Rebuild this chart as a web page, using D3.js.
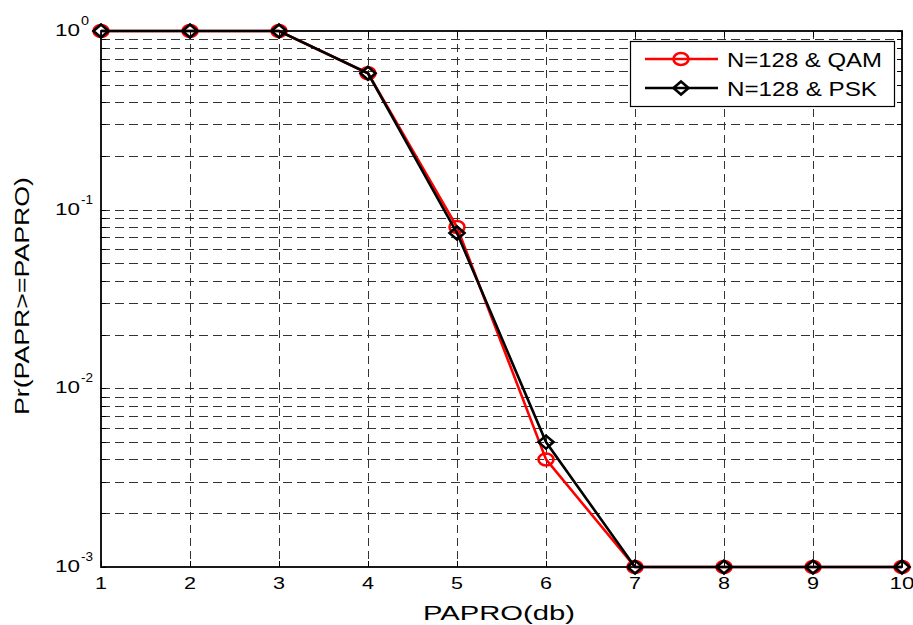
<!DOCTYPE html>
<html>
<head>
<meta charset="utf-8">
<script src="https://cdn.jsdelivr.net/npm/d3@7"></script>
<style>
  body { margin: 0; background: #fff; }
  text { font-family: "Liberation Sans", Arial, sans-serif; fill: #000; }
</style>
</head>
<body>
<div id="chart"></div>
<script>
let width = 913,
    height = 625,
    margin = ({ top: 31, right: 11, bottom: 58, left: 101 });

// data
const papro = [1, 2, 3, 4, 5, 6, 7, 8, 9, 10];
const qam   = [1, 1, 1, 0.58, 0.080, 0.0040, 0.001, 0.001, 0.001, 0.001];
const psk   = [1, 1, 1, 0.58, 0.074, 0.0050, 0.001, 0.001, 0.001, 0.001];
const xTicks = [1, 2, 3, 4, 5, 6, 7, 8, 9, 10];
const yDecades = [1, 0.1, 0.01, 0.001];
const yExponents = ["0", "-1", "-2", "-3"];
const legendLabels = ["N=128 & QAM", "N=128 & PSK"];

const svg = d3.select("#chart")
  .append("svg")
  .attr("width", width)
  .attr("height", height);

let x = d3.scaleLinear()
  .domain([1, 10])
  .range([margin.left, width - margin.right]);

let y = d3.scaleLog()
  .domain([0.001, 1])
  .range([height - margin.bottom, margin.top]);

let x0 = x.range()[0], x1 = x.range()[1],
    y0 = y.range()[0], y1 = y.range()[1];

// minor + major log grid values
let yGrid = [];
for (let d of yDecades.slice(1)) {
  for (let k = 1; k <= 9; k++) yGrid.push(d * k);
}
yGrid = yGrid.filter(v => v > 0.001 && v < 1);

// grid
svg.append("g")
  .selectAll("line")
  .data(yGrid)
  .join("line")
  .attr("x1", x0).attr("x2", x1)
  .attr("y1", d => Math.round(y(d)) + 0.5)
  .attr("y2", d => Math.round(y(d)) + 0.5)
  .attr("stroke", "#333")
  .attr("stroke-dasharray", "9,5");

svg.append("g")
  .selectAll("line")
  .data(xTicks.slice(1, -1))
  .join("line")
  .attr("x1", d => Math.round(x(d)) + 0.5)
  .attr("x2", d => Math.round(x(d)) + 0.5)
  .attr("y1", y1).attr("y2", y0)
  .attr("stroke", "#333")
  .attr("stroke-dasharray", "8,5");

// ticks (inside, both sides)
let ticks = svg.append("g").attr("stroke", "#000");
for (let v of yGrid.concat(yDecades)) {
  let yy = Math.round(y(v)) + 0.5;
  ticks.append("line").attr("x1", x0).attr("x2", x0 + 5).attr("y1", yy).attr("y2", yy);
  ticks.append("line").attr("x1", x1 - 5).attr("x2", x1).attr("y1", yy).attr("y2", yy);
}
for (let v of xTicks) {
  let xx = Math.round(x(v)) + 0.5;
  ticks.append("line").attr("x1", xx).attr("x2", xx).attr("y1", y0).attr("y2", y0 - 6);
  ticks.append("line").attr("x1", xx).attr("x2", xx).attr("y1", y1).attr("y2", y1 + 6);
}

// box
svg.append("rect")
  .attr("x", x0).attr("y", y1)
  .attr("width", x1 - x0).attr("height", y0 - y1)
  .attr("fill", "none")
  .attr("stroke", "#000")
  .attr("stroke-width", 1.8);

// x tick labels
svg.append("g")
  .selectAll("text")
  .data(xTicks)
  .join("text")
  .attr("x", d => x(d))
  .attr("y", y0 + 22)
  .attr("text-anchor", "middle")
  .attr("font-size", 17)
  .attr("textLength", d => d === 10 ? 25 : 12)
  .attr("lengthAdjust", "spacingAndGlyphs")
  .text(d => d);

// y tick labels 10^n
let yl = svg.append("g");
yDecades.forEach((d, i) => {
  let yy = y(d);
  yl.append("text")
    .attr("x", 80).attr("y", yy + 5)
    .attr("text-anchor", "end")
    .attr("font-size", 17)
    .attr("textLength", 25)
    .attr("lengthAdjust", "spacingAndGlyphs")
    .text("10");
  yl.append("text")
    .attr("x", 81).attr("y", yy - 6)
    .attr("font-size", 13)
    .attr("textLength", yExponents[i].length > 1 ? 12 : 8)
    .attr("lengthAdjust", "spacingAndGlyphs")
    .text(yExponents[i]);
});

// axis titles
svg.append("text")
  .attr("x", 499).attr("y", 620)
  .attr("text-anchor", "middle")
  .attr("font-size", 20)
  .attr("textLength", 152)
  .attr("lengthAdjust", "spacingAndGlyphs")
  .text("PAPRO(db)");

svg.append("text")
  .attr("transform", "translate(29,296) rotate(-90)")
  .attr("text-anchor", "middle")
  .attr("font-size", 21)
  .attr("textLength", 238)
  .attr("lengthAdjust", "spacingAndGlyphs")
  .text("Pr(PAPR>=PAPRO)");

// series
let line = d3.line()
  .x((d, i) => x(papro[i]))
  .y(d => y(d));

let diamond = "M0,-6.5L7.5,0L0,6.5L-7.5,0Z";

function drawSeries(vals, color, marker) {
  let g = svg.append("g");
  g.append("path")
    .datum(vals)
    .attr("fill", "none")
    .attr("stroke", color)
    .attr("stroke-width", 2.6)
    .attr("d", line);
  vals.forEach((v, i) => {
    if (marker === "o") {
      g.append("ellipse")
        .attr("cx", x(papro[i])).attr("cy", y(v))
        .attr("rx", 7.5).attr("ry", 6)
        .attr("fill", "none").attr("stroke", color).attr("stroke-width", 2.6);
    } else {
      g.append("path")
        .attr("transform", `translate(${x(papro[i])},${y(v)})`)
        .attr("d", diamond)
        .attr("fill", "none").attr("stroke", color).attr("stroke-width", 2.6);
    }
  });
}

drawSeries(qam, "#ff0000", "o");
drawSeries(psk, "#000000", "d");

// legend
let lg = svg.append("g");
lg.append("rect")
  .attr("x", 630.5).attr("y", 41.5)
  .attr("width", 264).attr("height", 65)
  .attr("fill", "#fff")
  .attr("stroke", "#000")
  .attr("stroke-width", 1.2);

[["#ff0000", "o"], ["#000000", "d"]].forEach(([color, m], i) => {
  let yy = 59 + i * 29;
  lg.append("line")
    .attr("x1", 645).attr("x2", 718)
    .attr("y1", yy).attr("y2", yy)
    .attr("stroke", color).attr("stroke-width", 2.6);
  if (m === "o") {
    lg.append("ellipse")
      .attr("cx", 681).attr("cy", yy).attr("rx", 7.5).attr("ry", 6)
      .attr("fill", "none").attr("stroke", color).attr("stroke-width", 2.6);
  } else {
    lg.append("path")
      .attr("transform", `translate(681,${yy})`)
      .attr("d", diamond)
      .attr("fill", "none").attr("stroke", color).attr("stroke-width", 2.6);
  }
  lg.append("text")
    .attr("x", 727).attr("y", yy + 7.5)
    .attr("font-size", 21)
    .attr("textLength", i === 0 ? 155 : 150)
    .attr("lengthAdjust", "spacingAndGlyphs")
    .text(legendLabels[i]);
});
</script>
</body>
</html>
